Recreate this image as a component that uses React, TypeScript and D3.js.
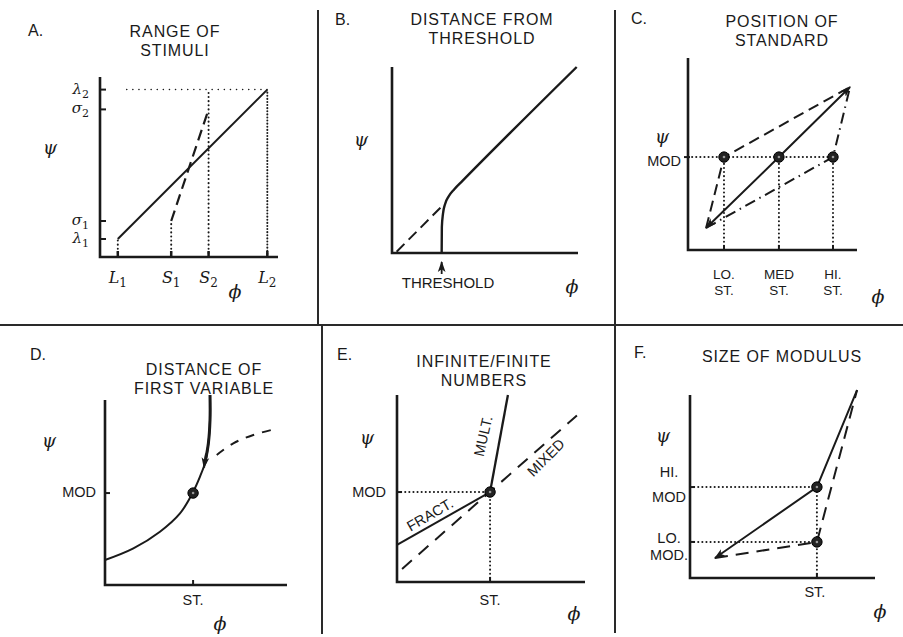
import React from 'react';
import * as d3 from 'd3';

type P = [number, number];

// Panel A: range of stimuli (values on a 0-100 scale of each axis)
const aXTicks = [10, 40, 61, 94];
const aXLabels = [['L', '1'], ['S', '1'], ['S', '2'], ['L', '2']];
const aYTicks = [10, 20, 82, 93];
const aYLabels = [['λ', '1'], ['σ', '1'], ['σ', '2'], ['λ', '2']];
const aWideRange: P[] = [[10, 10], [94, 93]];
const aNarrowRange: P[] = [[40, 20], [61, 82]];

// Panel B: distance from threshold
const bThreshold = 26.7;
const bCurve: P[] = [[26.7, 0], [26.8, 14], [27.4, 21], [28.6, 26.5], [30.5, 30.5], [33.5, 34.3], [38, 38.9], [99.3, 100]];
const bExtrapolated: P[] = [[2.5, 0.7], [26.7, 25]];

// Panel C: position of standard
const cStandards = [21.3, 53.8, 85.8];
const cStdLabels = [['LO.', 'ST.'], ['MED', 'ST.'], ['HI.', 'ST.']];
const cMod = 48.4;
const cLowEnd: P = [10.7, 11.5];
const cHighEnd: P = [95.9, 84.9];

// Panel D: distance of first variable
const dStd = 48.4;
const dMod = 49.7;
const dCurve: P[] = [[0, 13.5], [15.6, 19.8], [30.2, 28.8], [41.2, 38.7], [48.2, 49.9], [52.2, 58.6], [54.9, 65.8], [56.8, 76.6], [57.7, 89.2], [57.7, 102.7]];
const dDashed: P[] = [[61.4, 70.3], [70.5, 76.6], [81.5, 81.1], [95.2, 84.7]];

// Panel E: infinite/finite numbers
const eStd = 49.5;
const eMod = 48.1;
const eFract: P[] = [[0, 19.8], [49.5, 48.1]];
const eMult: P[] = [[49.5, 48.1], [59, 100]];
const eMixed: P[] = [[2.7, 7], [95.7, 89]];

// Panel F: size of modulus
const fStd = 68.6;
const fHiMod = 49.7;
const fLoMod = 19.7;
const fStart: P = [13.5, 10.9];
const fEnd: P = [90.3, 102.7];

const SANS = '"Liberation Sans", Arial, Helvetica, sans-serif';
const SERIF = '"DejaVu Serif", "Liberation Serif", serif';
const INK = '#1a1a1a';
const DOT = '0.1 4';
const DASH = '11 6';

const boxA = { x0: 100, x1: 278, y0: 257, y1: 77 };
const boxB = { x0: 392, x1: 578, y0: 253, y1: 67 };
const boxC = { x0: 688, x1: 857, y0: 250, y1: 58 };
const boxD = { x0: 105, x1: 287, y0: 585, y1: 400 };
const boxE = { x0: 397, x1: 585, y0: 582, y1: 395 };
const boxF = { x0: 690, x1: 875, y0: 578, y1: 395 };

type Box = typeof boxA;

function frame(b: Box) {
  const sx = d3.scaleLinear().domain([0, 100]).range([b.x0, b.x1]);
  const sy = d3.scaleLinear().domain([0, 100]).range([b.y0, b.y1]);
  const path = (pts: P[], curve: d3.CurveFactory = d3.curveLinear) =>
    d3.line<P>().x(d => sx(d[0])).y(d => sy(d[1])).curve(curve)(pts) || '';
  return { sx, sy, path };
}

const Axes = ({ b }: { b: Box }) => (
  <path d={`M${b.x0},${b.y1}V${b.y0}H${b.x1}`} fill="none" stroke={INK} strokeWidth={2.6} />
);

const Title = ({ x, y, lines, label, lx, ly }: any) => (
  <g fill={INK} fontFamily={SANS}>
    <text x={lx} y={ly} fontSize={16}>{label}</text>
    {lines.map((t: string, i: number) => (
      <text key={i} x={x} y={y + i * 19} fontSize={16} textAnchor="middle" letterSpacing={0.9}>{t}</text>
    ))}
  </g>
);

const Psi = ({ x, y }: any) => (
  <text x={x} y={y} fontFamily={SERIF} fontStyle="italic" fontSize={18} fill={INK} textAnchor="middle" dominantBaseline="central">ψ</text>
);
const Phi = ({ x, y }: any) => (
  <text x={x} y={y} fontFamily={SERIF} fontStyle="italic" fontSize={19} fill={INK} textAnchor="middle" dominantBaseline="central">ϕ</text>
);

const Dot = ({ x, y }: any) => (
  <g>
    <circle cx={x} cy={y} r={5.2} fill="#222" stroke="#000" strokeWidth={1} />
    <circle cx={x} cy={y} r={1.3} fill="#999" />
  </g>
);

const Lbl = ({ x, y, children, anchor = 'middle', size = 14.5 }: any) => (
  <text x={x} y={y} fontFamily={SANS} fontSize={size} fill={INK} textAnchor={anchor}>{children}</text>
);

export default function App() {
  const A = frame(boxA);
  const B = frame(boxB);
  const C = frame(boxC);
  const D = frame(boxD);
  const E = frame(boxE);
  const F = frame(boxF);
  const line = { fill: 'none', stroke: INK, strokeWidth: 2 };
  const dotted = { fill: 'none', stroke: INK, strokeWidth: 2, strokeDasharray: DOT, strokeLinecap: 'round' as const };

  return (
    <svg width={903} height={637} style={{ position: 'absolute', left: 0, top: 0, background: '#fff' }}>
      <defs>
        <marker id="arr" viewBox="0 0 10 10" refX={9} refY={5} markerWidth={11} markerHeight={11}
          markerUnits="userSpaceOnUse" orient="auto-start-reverse">
          <path d="M0,1.5 L10,5 L0,8.5 L2.5,5 z" fill={INK} />
        </marker>
      </defs>

      {/* panel dividers */}
      <g stroke="#2a2a2a" strokeWidth={2}>
        <line x1={0} x2={903} y1={325} y2={325} />
        <line x1={318} x2={318} y1={10} y2={325} />
        <line x1={322} x2={322} y1={325} y2={634} />
        <line x1={615} x2={615} y1={10} y2={633} />
      </g>

      {/* A. range of stimuli */}
      <Title label="A." lx={28} ly={36} x={175} y={37} lines={['RANGE OF', 'STIMULI']} />
      <Axes b={boxA} />
      <Psi x={50} y={147} />
      <Phi x={235} y={291} />
      {aYTicks.map((v, i) => (
        <g key={i}>
          <line x1={boxA.x0} x2={boxA.x0 + 6} y1={A.sy(v)} y2={A.sy(v)} stroke={INK} strokeWidth={2} />
          <text x={boxA.x0 - 11} y={A.sy(v) + 4} textAnchor="end" fontFamily={SERIF} fontStyle="italic" fontSize={15} fill={INK}>
            {aYLabels[i][0]}<tspan fontSize={11} fontStyle="normal" dy={4}>{aYLabels[i][1]}</tspan>
          </text>
        </g>
      ))}
      {aXTicks.map((v, i) => (
        <g key={i}>
          <line x1={A.sx(v)} x2={A.sx(v)} y1={boxA.y0} y2={boxA.y0 - 6} stroke={INK} strokeWidth={2.5} />
          <text x={A.sx(v)} y={283} textAnchor="middle" fontFamily={SERIF} fontStyle="italic" fontSize={16} fill={INK}>
            {aXLabels[i][0]}<tspan fontSize={12} fontStyle="normal" dy={4}>{aXLabels[i][1]}</tspan>
          </text>
        </g>
      ))}
      <path {...dotted} d={A.path([[aXTicks[0], 0], [aXTicks[0], aYTicks[0]]])} />
      <path {...dotted} d={A.path([[aXTicks[1], 0], [aXTicks[1], aYTicks[1]]])} />
      <path {...dotted} d={A.path([[aXTicks[2], 0], [aXTicks[2], aYTicks[3]]])} />
      <path {...dotted} strokeDasharray="0.1 3" d={A.path([[aXTicks[3], 0], [aXTicks[3], aYTicks[3]]])} />
      <path {...dotted} strokeWidth={1.5} strokeDasharray="0.1 6" d={A.path([[15, aYTicks[3]], [aXTicks[3], aYTicks[3]]])} />
      <path {...line} d={A.path(aWideRange)} />
      <path {...line} strokeWidth={2.2} strokeDasharray={DASH} d={A.path(aNarrowRange)} />

      {/* B. distance from threshold */}
      <Title label="B." lx={335} ly={25} x={482} y={25} lines={['DISTANCE FROM', 'THRESHOLD']} />
      <Axes b={boxB} />
      <Psi x={361} y={139} />
      <Phi x={572} y={286} />
      <path {...line} strokeWidth={2.4} d={B.path(bCurve, d3.curveMonotoneX)} />
      <path {...line} strokeDasharray={DASH} d={B.path(bExtrapolated)} />
      <line x1={B.sx(bThreshold)} x2={B.sx(bThreshold)} y1={274} y2={262} stroke={INK} strokeWidth={1.8} markerEnd="url(#arr)" />
      <Lbl x={448} y={288} size={15}>THRESHOLD</Lbl>

      {/* C. position of standard */}
      <Title label="C." lx={631} ly={24} x={782} y={27} lines={['POSITION OF', 'STANDARD']} />
      <Axes b={boxC} />
      <Psi x={662} y={136} />
      <Phi x={878} y={296} />
      <Lbl x={681} y={166} anchor="end">MOD</Lbl>
      <line x1={boxC.x0 - 4} x2={boxC.x0 + 2} y1={C.sy(cMod)} y2={C.sy(cMod)} stroke={INK} strokeWidth={2} />
      <path {...dotted} d={C.path([[0, cMod], [cStandards[2], cMod]])} />
      {cStandards.map((v, i) => (
        <g key={i}>
          <path {...dotted} d={C.path([[v, 0], [v, cMod]])} />
          <line x1={C.sx(v)} x2={C.sx(v)} y1={boxC.y0} y2={boxC.y0 - 5} stroke={INK} strokeWidth={2} />
          <Lbl x={C.sx(v)} y={279} size={13.5}>{cStdLabels[i][0]}</Lbl>
          <Lbl x={C.sx(v)} y={295} size={13.5}>{cStdLabels[i][1]}</Lbl>
        </g>
      ))}
      <path {...line} markerStart="url(#arr)" markerEnd="url(#arr)" d={C.path([cLowEnd, [cStandards[1], cMod], cHighEnd])} />
      <path {...line} strokeDasharray={DASH} d={C.path([cLowEnd, [cStandards[0], cMod], cHighEnd])} />
      <path {...line} strokeDasharray="11 5 1.5 5" d={C.path([cLowEnd, [cStandards[2], cMod], cHighEnd])} />
      {cStandards.map((v, i) => <Dot key={i} x={C.sx(v)} y={C.sy(cMod)} />)}

      {/* D. distance of first variable */}
      <Title label="D." lx={30} ly={360} x={204} y={375} lines={['DISTANCE OF', 'FIRST VARIABLE']} />
      <Axes b={boxD} />
      <Psi x={49} y={440} />
      <Phi x={220} y={623} />
      <Lbl x={96} y={497} anchor="end">MOD</Lbl>
      <line x1={boxD.x0} x2={boxD.x0 + 5} y1={D.sy(dMod)} y2={D.sy(dMod)} stroke={INK} strokeWidth={2} />
      <line x1={D.sx(dStd)} x2={D.sx(dStd)} y1={boxD.y0} y2={boxD.y0 - 5} stroke={INK} strokeWidth={2} />
      <Lbl x={D.sx(dStd)} y={605}>ST.</Lbl>
      <path {...line} d={D.path(dCurve, d3.curveCatmullRom.alpha(0.5))} />
      <path {...line} strokeWidth={3} d={D.path(dCurve.slice(6), d3.curveCatmullRom.alpha(0.5))} />
      <path {...line} markerEnd="url(#arr)" d={D.path([[55.5, 71], [54.4, 63.5]])} />
      <path {...line} strokeDasharray="9 8" d={D.path(dDashed, d3.curveCatmullRom.alpha(0.5))} />
      <Dot x={D.sx(dStd)} y={D.sy(dMod)} />

      {/* E. infinite/finite numbers */}
      <Title label="E." lx={337} ly={360} x={484} y={367} lines={['INFINITE/FINITE', 'NUMBERS']} />
      <Axes b={boxE} />
      <Psi x={367} y={437} />
      <Phi x={574} y={613} />
      <Lbl x={386} y={497} anchor="end">MOD</Lbl>
      <line x1={boxE.x0} x2={boxE.x0 + 5} y1={E.sy(eMod)} y2={E.sy(eMod)} stroke={INK} strokeWidth={2} />
      <path {...dotted} d={E.path([[0, eMod], [eStd, eMod]])} />
      <path {...dotted} d={E.path([[eStd, 0], [eStd, eMod]])} />
      <line x1={E.sx(eStd)} x2={E.sx(eStd)} y1={boxE.y0} y2={boxE.y0 - 5} stroke={INK} strokeWidth={2} />
      <Lbl x={E.sx(eStd)} y={605}>ST.</Lbl>
      <path {...line} d={E.path(eFract)} />
      <path {...line} strokeWidth={2.3} d={E.path(eMult)} />
      <path {...line} strokeDasharray="13 9" d={E.path(eMixed)} />
      <Dot x={E.sx(eStd)} y={E.sy(eMod)} />
      <g fontFamily={SANS} fontSize={14.5} fill={INK} textAnchor="middle" dominantBaseline="central">
        <text transform={`translate(${E.sx(17.5)},${E.sy(36)}) rotate(-30)`}>FRACT.</text>
        <text transform={`translate(${E.sx(45.8)},${E.sy(78)}) rotate(-77)`}>MULT.</text>
        <text transform={`translate(${E.sx(79.2)},${E.sy(66.5)}) rotate(-45)`}>MIXED</text>
      </g>

      {/* F. size of modulus */}
      <Title label="F." lx={634} ly={358} x={782} y={362} lines={['SIZE OF MODULUS']} />
      <Axes b={boxF} />
      <Psi x={663} y={435} />
      <Phi x={880} y={611} />
      <Lbl x={669} y={477}>HI.</Lbl>
      <Lbl x={669} y={502}>MOD</Lbl>
      <Lbl x={669} y={543}>LO.</Lbl>
      <Lbl x={669} y={560}>MOD.</Lbl>
      <line x1={boxF.x0} x2={boxF.x0 + 5} y1={F.sy(fHiMod)} y2={F.sy(fHiMod)} stroke={INK} strokeWidth={2} />
      <line x1={boxF.x0} x2={boxF.x0 + 5} y1={F.sy(fLoMod)} y2={F.sy(fLoMod)} stroke={INK} strokeWidth={2} />
      <path {...dotted} d={F.path([[0, fHiMod], [fStd, fHiMod]])} />
      <path {...dotted} d={F.path([[0, fLoMod], [fStd, fLoMod]])} />
      <path {...dotted} d={F.path([[fStd, 0], [fStd, fHiMod]])} />
      <line x1={F.sx(fStd)} x2={F.sx(fStd)} y1={boxF.y0} y2={boxF.y0 - 5} stroke={INK} strokeWidth={2} />
      <Lbl x={F.sx(fStd) - 2} y={597}>ST.</Lbl>
      <path {...line} markerStart="url(#arr)" d={F.path([fStart, [fStd, fHiMod], fEnd])} />
      <path {...line} strokeDasharray="13 8" d={F.path([fStart, [fStd, fLoMod], fEnd])} />
      <Dot x={F.sx(fStd)} y={F.sy(fHiMod)} />
      <Dot x={F.sx(fStd)} y={F.sy(fLoMod)} />
    </svg>
  );
}
